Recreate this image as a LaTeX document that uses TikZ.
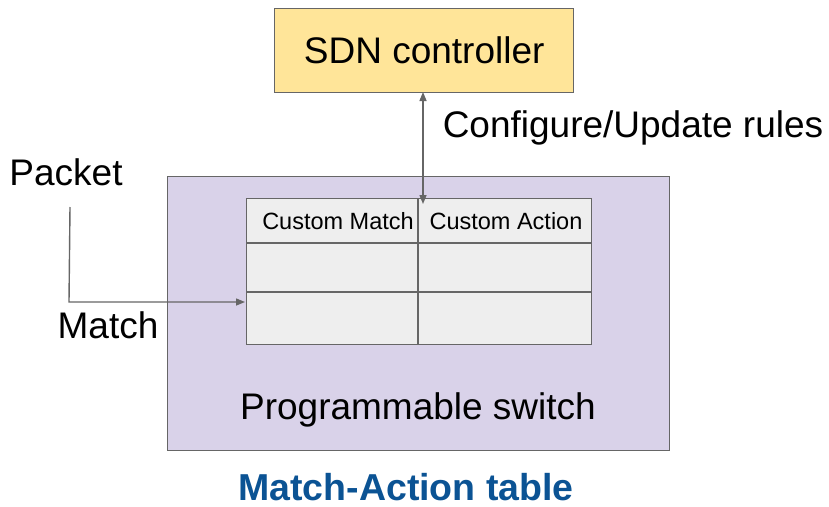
\documentclass[tikz,border=0pt]{standalone}
\usepackage{fontspec}
\setmainfont{Liberation Sans}
\usetikzlibrary{arrows.meta,calc}
\definecolor{linegray}{HTML}{666666}
\definecolor{ctrlfill}{HTML}{FFE599}
\definecolor{switchfill}{HTML}{D9D2E9}
\definecolor{tablefill}{HTML}{EEEEEE}
\definecolor{titleblue}{HTML}{0B5394}
\tikzset{
  boxline/.style={draw=linegray, line width=1.4pt},
  bigtext/.style={font=\fontsize{37}{40}\selectfont, inner sep=0pt},
  celltext/.style={font=\fontsize{23.5}{26}\selectfont, inner sep=0pt},
  conn/.style={draw=linegray, line width=1.4pt, -{Triangle[length=9pt,width=7pt]}},
}
\begin{document}
\begin{tikzpicture}[x=1pt,y=-1pt]
\useasboundingbox (0,0) rectangle (829,506);
% controller
\node[boxline, fill=ctrlfill, minimum width=299pt, minimum height=84pt, anchor=north west, inner sep=0pt] (sdn) at (274,8) {};
\node[bigtext] (sdnlabel) at (sdn.center) {SDN controller};
% switch
\node[boxline, fill=switchfill, minimum width=502pt, minimum height=274pt, anchor=north west, inner sep=0pt] (sw) at (167,176) {};
\node[bigtext] (swlabel) at (418,410) {Programmable switch};
% table
\node[boxline, fill=tablefill, minimum width=345pt, minimum height=146pt, anchor=north west, inner sep=0pt] (tbl) at (246,198) {};
\coordinate (midtop) at (418,198);
\coordinate (midbot) at (418,344);
\coordinate (r1l) at (246,243);
\coordinate (r1r) at (591,243);
\coordinate (r2l) at (246,292);
\coordinate (r2r) at (591,292);
\draw[boxline] (midtop) -- (midbot);
\draw[boxline] (r1l) -- (r1r);
\draw[boxline] (r2l) -- (r2r);
\node[celltext] (hmatch) at (338,221) {Custom Match};
\node[celltext] (haction) at (506,221) {Custom Action};
% controller <-> table
\coordinate (ctrlout) at (423,92);
\coordinate (tblin) at (423,204);
\draw[conn, {Triangle[length=9pt,width=7pt]}-{Triangle[length=9pt,width=7pt]}] (ctrlout) -- (tblin);
\node[bigtext] (cfg) at (633,128) {Configure/Update rules};
% packet path
\node[bigtext] (pkt) at (66,172) {Packet};
\coordinate (pkttop) at (70,207);
\coordinate (pktbend) at (69,302);
\coordinate (pktin) at (245,302);
\draw[conn] (pkttop) -- (pktbend) -- (pktin);
\node[bigtext] (matchlbl) at (108,325) {Match};
% caption
\node[font=\fontsize{37.5}{40}\selectfont\bfseries, text=titleblue, inner sep=0pt, text height=27pt, text depth=1pt] (caption) at (406,487) {Match-Action table};
\end{tikzpicture}
\end{document}
